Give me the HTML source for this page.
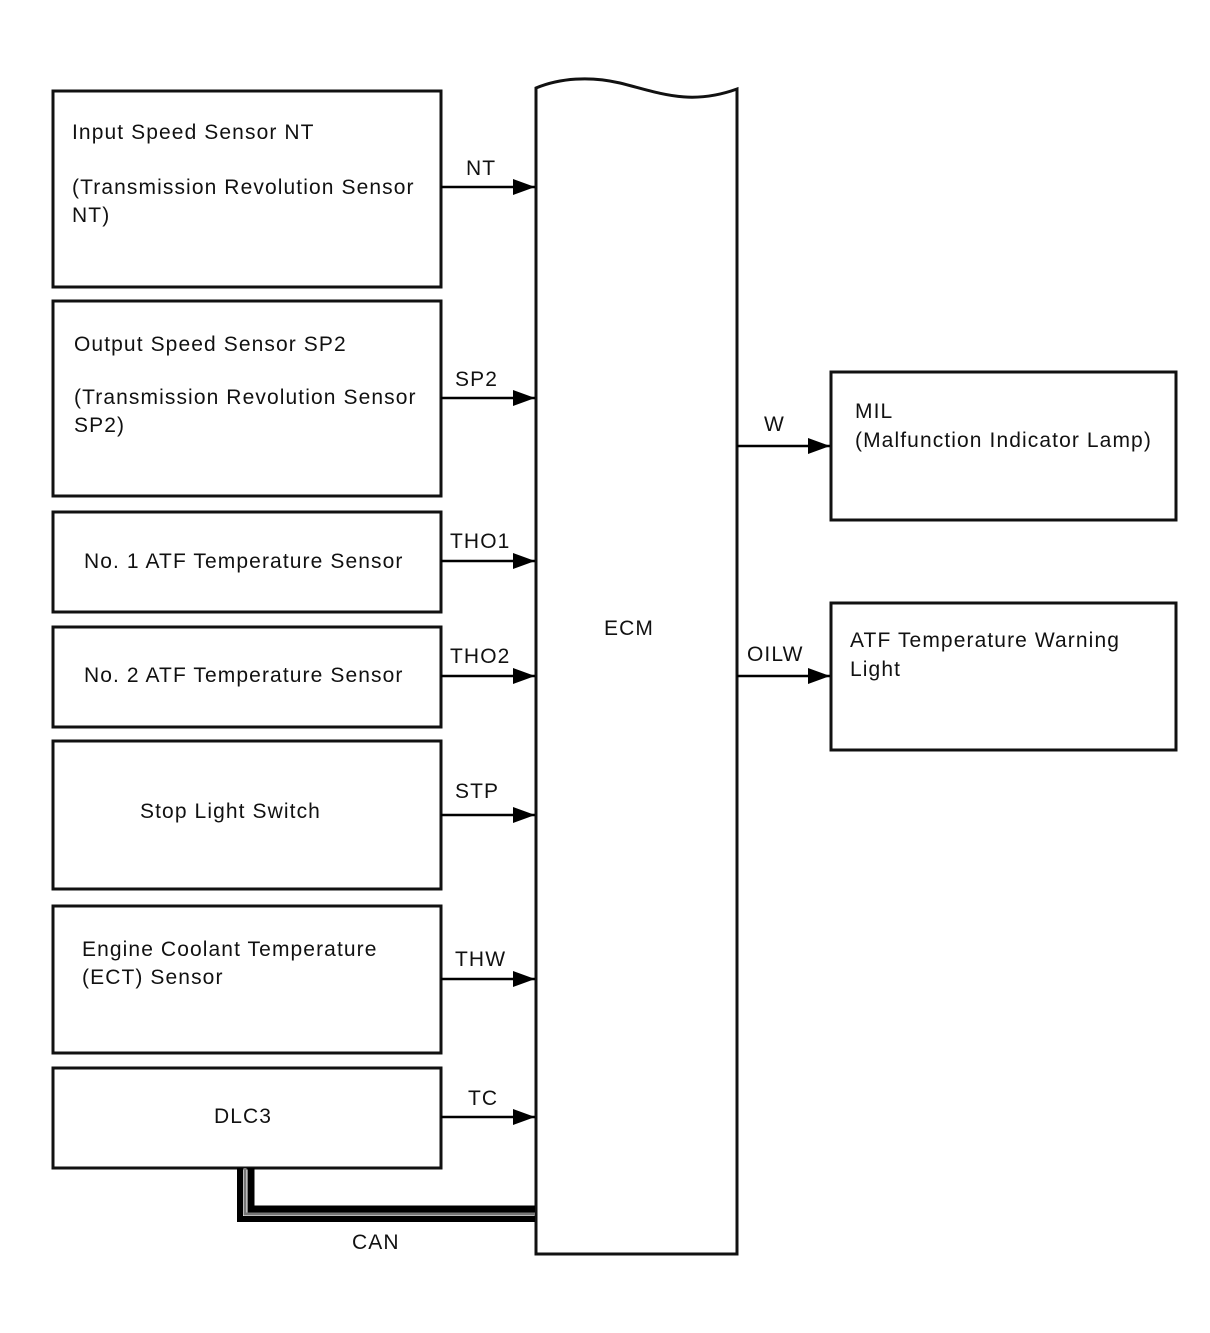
<!DOCTYPE html>
<html><head><style>
body{margin:0;background:#fff;}
svg text{font-family:"Liberation Sans",Arial,sans-serif;font-size:21px;letter-spacing:1.1px;fill:#111;}
</style></head><body>
<svg width="1210" height="1328" viewBox="0 0 1210 1328" xmlns="http://www.w3.org/2000/svg">
<defs><marker id="a" markerWidth="22" markerHeight="16" refX="22" refY="8" orient="auto" markerUnits="userSpaceOnUse"><path d="M0,0 L22,8 L0,16 z" fill="#000"/></marker></defs>
<g fill="none" stroke="#111" stroke-width="3">
<rect x="53" y="91" width="388" height="196"/>
<rect x="53" y="301" width="388" height="195"/>
<rect x="53" y="512" width="388" height="100"/>
<rect x="53" y="627" width="388" height="100"/>
<rect x="53" y="741" width="388" height="148"/>
<rect x="53" y="906" width="388" height="147"/>
<rect x="53" y="1068" width="388" height="100"/>
<rect x="831" y="372" width="345" height="148"/>
<rect x="831" y="603" width="345" height="147"/>
<path d="M536,1254 L536,88 C560,78 590,76 620,83 C660,93 690,106 737,89 L737,1254 Z"/>
</g>
<g stroke="#000" stroke-width="2.5" marker-end="url(#a)">
<line x1="441" y1="187" x2="535" y2="187"/>
<line x1="441" y1="398" x2="535" y2="398"/>
<line x1="441" y1="561" x2="535" y2="561"/>
<line x1="441" y1="676" x2="535" y2="676"/>
<line x1="441" y1="815" x2="535" y2="815"/>
<line x1="441" y1="979" x2="535" y2="979"/>
<line x1="441" y1="1117" x2="535" y2="1117"/>
<line x1="737" y1="446" x2="830" y2="446"/>
<line x1="737" y1="676" x2="830" y2="676"/>
</g>
<g fill="none">
<path d="M240,1168 L240,1219 L535,1219" stroke="#000" stroke-width="6"/>
<path d="M245,1168 L245,1214 L535,1214" stroke="#777" stroke-width="3"/>
<path d="M251,1168 L251,1209 L535,1209" stroke="#000" stroke-width="7"/>
</g>
<text x="72" y="139">Input Speed Sensor NT</text>
<text x="72" y="194">(Transmission Revolution Sensor</text>
<text x="72" y="222">NT)</text>
<text x="74" y="351">Output Speed Sensor SP2</text>
<text x="74" y="404">(Transmission Revolution Sensor</text>
<text x="74" y="432">SP2)</text>
<text x="84" y="568">No. 1 ATF Temperature Sensor</text>
<text x="84" y="682">No. 2 ATF Temperature Sensor</text>
<text x="140" y="818">Stop Light Switch</text>
<text x="82" y="956">Engine Coolant Temperature</text>
<text x="82" y="984">(ECT) Sensor</text>
<text x="214" y="1123">DLC3</text>
<text x="466" y="175">NT</text>
<text x="455" y="386">SP2</text>
<text x="450" y="548">THO1</text>
<text x="450" y="663">THO2</text>
<text x="455" y="798">STP</text>
<text x="455" y="966">THW</text>
<text x="468" y="1105">TC</text>
<text x="352" y="1249">CAN</text>
<text x="604" y="635">ECM</text>
<text x="764" y="431">W</text>
<text x="747" y="661">OILW</text>
<text x="855" y="418">MIL</text>
<text x="855" y="447">(Malfunction Indicator Lamp)</text>
<text x="850" y="647">ATF Temperature Warning</text>
<text x="850" y="676">Light</text>
</svg>
</body></html>
